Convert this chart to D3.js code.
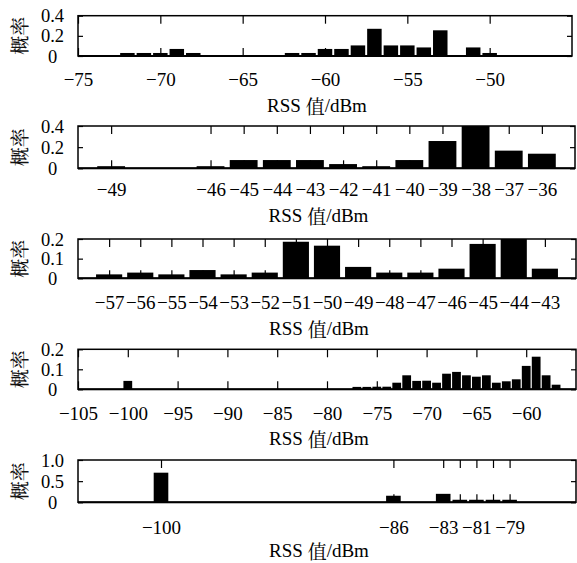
<!DOCTYPE html>
<html><head><meta charset="utf-8">
<script src="https://cdn.jsdelivr.net/npm/d3@7"></script>
<style>body{margin:0;background:#fff} svg{display:block}</style>
</head><body>
<script>
// ---- Data ----
// Panel 1
const rss1 = [-72,-71,-70,-69,-68,-62,-61,-60,-59,-58,-57,-56,-55,-54,-53,-51,-50];
const prob1 = [0.03,0.03,0.03,0.07,0.03,0.03,0.03,0.07,0.07,0.105,0.27,0.105,0.105,0.085,0.255,0.085,0.03];
const xTicks1 = [-75,-70,-65,-60,-55,-50];
const xLabels1 = [-75,-70,-65,-60,-55,-50];
const yTicks1 = [0,0.2,0.4];
const yLabels1 = ["0","0.2","0.4"];
// Panel 2
const rss2 = [-49,-46,-45,-44,-43,-42,-41,-40,-39,-38,-37,-36];
const prob2 = [0.02,0.02,0.078,0.078,0.078,0.04,0.02,0.078,0.258,0.4,0.167,0.138];
const xTicks2 = [-49,-46,-45,-44,-43,-42,-41,-40,-39,-38,-37,-36];
const xLabels2 = [-49,-46,-45,-44,-43,-42,-41,-40,-39,-38,-37,-36];
const yTicks2 = [0,0.2,0.4];
const yLabels2 = ["0","0.2","0.4"];
// Panel 3
const rss3 = [-57,-56,-55,-54,-53,-52,-51,-50,-49,-48,-47,-46,-45,-44,-43];
const prob3 = [0.02,0.029,0.02,0.042,0.02,0.029,0.186,0.166,0.058,0.029,0.029,0.049,0.175,0.2,0.049];
const xTicks3 = [-57,-56,-55,-54,-53,-52,-51,-50,-49,-48,-47,-46,-45,-44,-43];
const xLabels3 = [-57,-56,-55,-54,-53,-52,-51,-50,-49,-48,-47,-46,-45,-44,-43];
const yTicks3 = [0,0.1,0.2];
const yLabels3 = ["0","0.1","0.2"];
// Panel 4
const rss4 = [-100,-77,-76,-75,-74,-73,-72,-71,-70,-69,-68,-67,-66,-65,-64,-63,-62,-61,-60,-59,-58,-57];
const prob4 = [0.042,0.012,0.012,0.013,0.013,0.033,0.07,0.042,0.043,0.033,0.078,0.087,0.07,0.063,0.07,0.033,0.04,0.05,0.117,0.163,0.07,0.023];
const xTicks4 = [-105,-100,-95,-90,-85,-80,-75,-70,-65,-60];
const xLabels4 = [-105,-100,-95,-90,-85,-80,-75,-70,-65,-60];
const yTicks4 = [0,0.1,0.2];
const yLabels4 = ["0","0.1","0.2"];
// Panel 5
const rss5 = [-100,-86,-83,-82,-81,-80,-79];
const prob5 = [0.7,0.155,0.2,0.06,0.06,0.06,0.06];
const xTicks5 = [-100,-86,-83,-82,-81,-80,-79];
const xLabels5 = [-100,-86,-83,-81,-79];
const yTicks5 = [0,0.5,1.0];
const yLabels5 = ["0","0.5","1.0"];

const xTitleParts = ["RSS ", "值", "/dBm"];
const yTitle = "概率";

// ---- Layout ----
const W = 577, H = 563;
const panels = [
  {rss:rss1, prob:prob1, xd:[-75,-45], xt:xTicks1, xl:xLabels1, yt:yTicks1, yl:yLabels1, top:15.7, bottom:56,    right:572, bw:0.88, lab:23, tit:49},
  {rss:rss2, prob:prob2, xd:[-50,-35], xt:xTicks2, xl:xLabels2, yt:yTicks2, yl:yLabels2, top:126,  bottom:168.3, right:575, bw:0.84, lab:21, tit:47},
  {rss:rss3, prob:prob3, xd:[-58,-42], xt:xTicks3, xl:xLabels3, yt:yTicks3, yl:yLabels3, top:239,  bottom:278.3, right:576, bw:0.84, lab:24, tit:50},
  {rss:rss4, prob:prob4, xd:[-105,-55],xt:xTicks4, xl:xLabels4, yt:yTicks4, yl:yLabels4, top:349.3,bottom:389.3, right:576, bw:0.88, lab:24, tit:49},
  {rss:rss5, prob:prob5, xd:[-105,-75],xt:xTicks5, xl:xLabels5, yt:yTicks5, yl:yLabels5, top:460,  bottom:502.3, right:576, bw:0.88, lab:25, tit:47.5}
];
const left = 78;
const SERIF = '"Liberation Serif"';
const CJK = '"Noto Serif CJK SC"';
const fmt = v => (v < 0 ? "\u2212" + Math.abs(v) : String(v));

const svg = d3.select("body").append("svg").attr("width", W).attr("height", H);

panels.forEach((p, i) => {
  const x = d3.scaleLinear().domain(p.xd).range([left, p.right]);
  const y = d3.scaleLinear().domain([0, p.yt[p.yt.length-1]]).range([p.bottom, p.top]);
  const unit = x(p.xd[0] + 1) - x(p.xd[0]);
  const g = svg.append("g");
  const clipId = "clip" + i;
  svg.append("clipPath").attr("id", clipId).append("rect")
    .attr("x", left).attr("y", p.top).attr("width", p.right - left).attr("height", p.bottom - p.top);

  // bars
  g.append("g").attr("clip-path", `url(#${clipId})`)
    .selectAll("rect").data(p.rss.map((r, k) => ({r, v: p.prob[k]})))
    .join("rect")
    .attr("x", d => x(d.r) - unit * p.bw / 2)
    .attr("width", unit * p.bw)
    .attr("y", d => y(d.v))
    .attr("height", d => y(0) - y(d.v))
    .attr("fill", "#000");

  // bottom axis with labels
  const bAxis = d3.axisBottom(x).tickValues(p.xt).tickSize(-8).tickPadding(0)
    .tickFormat(v => p.xl.includes(v) ? fmt(v) : "");
  const bg = g.append("g").attr("transform", `translate(0,${p.bottom})`).call(bAxis);
  bg.select(".domain").remove();
  bg.selectAll(".tick line").attr("stroke", "#000").attr("stroke-width", 1.2);
  bg.selectAll(".tick text").attr("y", p.lab).attr("dy", null)
    .attr("dominant-baseline", "central")
    .style("font-family", SERIF).style("font-size", "19px").attr("fill", "#000");

  // top axis ticks
  const tg = g.append("g").attr("transform", `translate(0,${p.top})`)
    .call(d3.axisTop(x).tickValues(p.xt).tickSize(-8).tickFormat(""));
  tg.select(".domain").remove();
  tg.selectAll(".tick line").attr("stroke", "#000").attr("stroke-width", 1.2);

  // left axis
  const lg = g.append("g").attr("transform", `translate(${left},0)`)
    .call(d3.axisLeft(y).tickValues(p.yt).tickSize(-5).tickFormat((v, k) => p.yl[k]));
  lg.select(".domain").remove();
  lg.selectAll(".tick line").attr("stroke", "#000").attr("stroke-width", 1.2);
  lg.selectAll(".tick text").attr("x", 52.5 - left).attr("dy", null)
    .attr("text-anchor", "middle").attr("dominant-baseline", "central")
    .style("font-family", SERIF).style("font-size", "18.5px").attr("fill", "#000");

  // right axis ticks
  const rg = g.append("g").attr("transform", `translate(${p.right},0)`)
    .call(d3.axisRight(y).tickValues(p.yt).tickSize(-5).tickFormat(""));
  rg.select(".domain").remove();
  rg.selectAll(".tick line").attr("stroke", "#000").attr("stroke-width", 1.2);

  // frame
  g.append("rect").attr("x", left).attr("y", p.top)
    .attr("width", p.right - left).attr("height", p.bottom - p.top)
    .attr("fill", "none").attr("stroke", "#000").attr("stroke-width", 1.5);
  g.append("line").attr("x1", left).attr("x2", p.right).attr("y1", p.bottom).attr("y2", p.bottom)
    .attr("stroke", "#000").attr("stroke-width", 2);

  // x title
  const t = g.append("text").attr("x", (left + p.right) / 2 - 8).attr("y", p.bottom + p.tit)
    .attr("text-anchor", "middle").attr("dominant-baseline", "central")
    .style("font-family", SERIF).style("font-size", "19px").attr("fill", "#000");
  t.selectAll("tspan").data(xTitleParts).join("tspan")
    .style("font-family", (d, k) => k === 1 ? CJK : SERIF).text(d => d);

  // y title
  const cy = (p.top + p.bottom) / 2;
  g.append("text").attr("transform", `translate(18,${cy}) rotate(-90)`)
    .attr("text-anchor", "middle").attr("dominant-baseline", "central")
    .style("font-family", CJK).style("font-size", "19px").style("font-weight", "500")
    .attr("fill", "#111").text(yTitle);
});
</script>
</body></html>
